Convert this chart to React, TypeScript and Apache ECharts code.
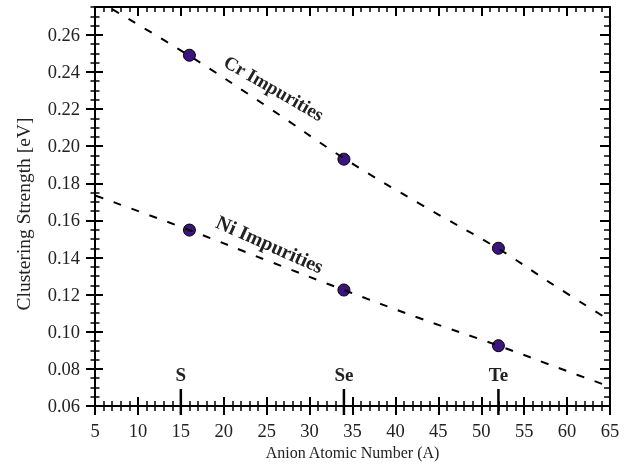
import React, { useEffect, useRef } from "react";
import * as echarts from "echarts";

// Measured data points (anion atomic number vs clustering strength)
const anionNumbers = [16, 34, 52];
const crStrength = [0.249, 0.193, 0.145];
const niStrength = [0.1548, 0.1225, 0.0925];

// Dashed guide curves
const crFitX = [7.0, 16, 25, 34, 43, 52, 58, 64.5];
const crFitY = [0.2738, 0.2487, 0.2215, 0.1935, 0.1685, 0.1447, 0.1265, 0.1075];
const niFitX = [5.1, 16, 25, 34, 43, 52, 60, 64.5];
const niFitY = [0.1733, 0.1548, 0.1385, 0.1225, 0.107, 0.0925, 0.0788, 0.0712];

// Element markers on the x axis
const elementTickX = [15, 34, 52];
const elementLabels = ["S", "Se", "Te"];

const xMin = 5;
const xMax = 65;
const xInterval = 5;
const yMin = 0.06;
const yMax = 0.275;
const yInterval = 0.02;
const yMinorInterval = 0.005;

const FONT = "Liberation Serif";
const TEXT = "#222";
const POINT = "#3b1480";

export default function App() {
  const ref = useRef<HTMLDivElement>(null);
  useEffect(() => {
    if (!ref.current) return;
    const chart = echarts.init(ref.current, undefined, { renderer: "svg" });

    const tickLine = { color: "#000", width: 2 };
    const minorLine = { color: "#000", width: 1.5 };

    const baseX = (extra: any) => ({
      type: "value",
      min: xMin,
      max: xMax,
      interval: xInterval,
      splitLine: { show: false },
      minorSplitLine: { show: false },
      axisLabel: { show: false },
      axisLine: { show: false, onZero: false },
      ...extra,
    });
    const baseY = (extra: any) => ({
      type: "value",
      min: yMin,
      max: yMax,
      splitLine: { show: false },
      minorSplitLine: { show: false },
      axisLabel: { show: false },
      axisLine: { show: false, onZero: false },
      ...extra,
    });

    chart.setOption({
      animation: false,
      grid: { left: 95, right: 25, top: 7, bottom: 62, containLabel: false },
      xAxis: [
        baseX({
          position: "bottom",
          name: "Anion Atomic Number (A)",
          nameLocation: "middle",
          nameGap: 32,
          nameTextStyle: { fontFamily: FONT, fontSize: 16, color: TEXT },
          axisLine: { show: true, onZero: false, lineStyle: { color: "#000", width: 2 } },
          axisTick: { show: true, inside: false, length: 9, lineStyle: tickLine },
          minorTick: { show: true, splitNumber: 5, length: 5, lineStyle: minorLine },
          axisLabel: { show: true, fontFamily: FONT, fontSize: 18.5, color: TEXT, margin: 15 },
        }),
        baseX({
          position: "bottom",
          axisTick: { show: true, inside: true, length: 9, lineStyle: tickLine },
          minorTick: { show: true, splitNumber: 5, length: 5, lineStyle: minorLine },
        }),
        baseX({
          position: "top",
          axisLine: { show: true, onZero: false, lineStyle: { color: "#000", width: 2 } },
          axisTick: { show: true, inside: true, length: 9, lineStyle: tickLine },
          minorTick: { show: true, splitNumber: 5, length: 5, lineStyle: minorLine },
        }),
      ],
      yAxis: [
        baseY({
          position: "left",
          interval: yInterval,
          name: "Clustering Strength [eV]",
          nameLocation: "middle",
          nameGap: 62,
          nameTextStyle: {
            fontFamily: FONT,
            fontSize: 19.5,
            color: TEXT,
            padding: [0, 15, 0, 0],
          },
          axisLine: { show: true, onZero: false, lineStyle: { color: "#000", width: 2 } },
          axisTick: { show: true, inside: false, length: 9, lineStyle: tickLine },
          axisLabel: {
            show: true,
            fontFamily: FONT,
            fontSize: 18.5,
            color: TEXT,
            margin: 15,
            showMaxLabel: false,
            formatter: (v: number) => v.toFixed(2),
          },
        }),
        baseY({
          position: "left",
          interval: yInterval,
          axisTick: { show: true, inside: true, length: 8, lineStyle: tickLine },
        }),
        baseY({
          position: "left",
          interval: yMinorInterval,
          axisTick: { show: true, inside: false, length: 4.5, lineStyle: minorLine },
        }),
        baseY({
          position: "left",
          interval: yMinorInterval,
          axisTick: { show: true, inside: true, length: 4.5, lineStyle: minorLine },
        }),
        baseY({
          position: "right",
          interval: yInterval,
          axisLine: { show: true, onZero: false, lineStyle: { color: "#000", width: 2 } },
          axisTick: { show: true, inside: true, length: 10, lineStyle: tickLine },
        }),
        baseY({
          position: "right",
          interval: yMinorInterval,
          axisTick: { show: true, inside: true, length: 6, lineStyle: minorLine },
        }),
      ],
      graphic: [
        {
          type: "text",
          x: 274,
          y: 88,
          rotation: (-30 * Math.PI) / 180,
          z: 10,
          style: {
            text: "Cr Impurities",
            fontFamily: FONT,
            fontWeight: "bold",
            fontStyle: "normal",
            fontSize: 19,
            fill: TEXT,
            align: "center",
            verticalAlign: "middle",
          },
        },
        {
          type: "text",
          x: 270,
          y: 244,
          rotation: (-24 * Math.PI) / 180,
          z: 10,
          style: {
            text: "Ni Impurities",
            fontFamily: FONT,
            fontWeight: "bold",
            fontStyle: "normal",
            fontSize: 20,
            fill: TEXT,
            align: "center",
            verticalAlign: "middle",
          },
        },
      ],
      series: [
        {
          type: "scatter",
          name: "Cr",
          xAxisIndex: 0,
          yAxisIndex: 0,
          data: anionNumbers.map((x, i) => [x, crStrength[i]]),
          symbol: "circle",
          symbolSize: 12,
          itemStyle: { color: POINT, opacity: 1, borderColor: "#000", borderWidth: 1 },
          z: 2,
        },
        {
          type: "scatter",
          name: "Ni",
          xAxisIndex: 0,
          yAxisIndex: 0,
          data: anionNumbers.map((x, i) => [x, niStrength[i]]),
          symbol: "circle",
          symbolSize: 12,
          itemStyle: { color: POINT, opacity: 1, borderColor: "#000", borderWidth: 1 },
          z: 2,
        },
        {
          type: "line",
          name: "Cr fit",
          xAxisIndex: 0,
          yAxisIndex: 0,
          data: crFitX.map((x, i) => [x, crFitY[i]]),
          showSymbol: false,
          symbol: "none",
          smooth: 0.4,
          lineStyle: { color: "#000", width: 2, type: [8, 11] },
          z: 3,
        },
        {
          type: "line",
          name: "Ni fit",
          xAxisIndex: 0,
          yAxisIndex: 0,
          data: niFitX.map((x, i) => [x, niFitY[i]]),
          showSymbol: false,
          symbol: "none",
          smooth: 0.4,
          lineStyle: { color: "#000", width: 2, type: [8, 11] },
          z: 3,
        },
        {
          type: "custom",
          name: "elements",
          xAxisIndex: 0,
          yAxisIndex: 0,
          clip: false,
          silent: true,
          z: 5,
          data: elementTickX.map((x) => [x, yMin]),
          renderItem: (params: any, api: any) => {
            const p = api.coord([api.value(0), yMin]);
            return {
              type: "group",
              children: [
                {
                  type: "line",
                  shape: { x1: p[0], y1: p[1] + 9, x2: p[0], y2: p[1] - 17 },
                  style: { stroke: "#000", lineWidth: 2.5 },
                },
                {
                  type: "text",
                  x: p[0],
                  y: p[1] - 22,
                  style: {
                    text: elementLabels[params.dataIndex],
                    fontFamily: FONT,
                    fontWeight: "bold",
                    fontSize: 19,
                    fill: TEXT,
                    align: "center",
                    verticalAlign: "bottom",
                  },
                },
              ],
            };
          },
        },
      ],
    });
    return () => chart.dispose();
  }, []);
  return (
    <div
      ref={ref}
      style={{ position: "fixed", left: 0, top: 0, width: 635, height: 468 }}
    />
  );
}
